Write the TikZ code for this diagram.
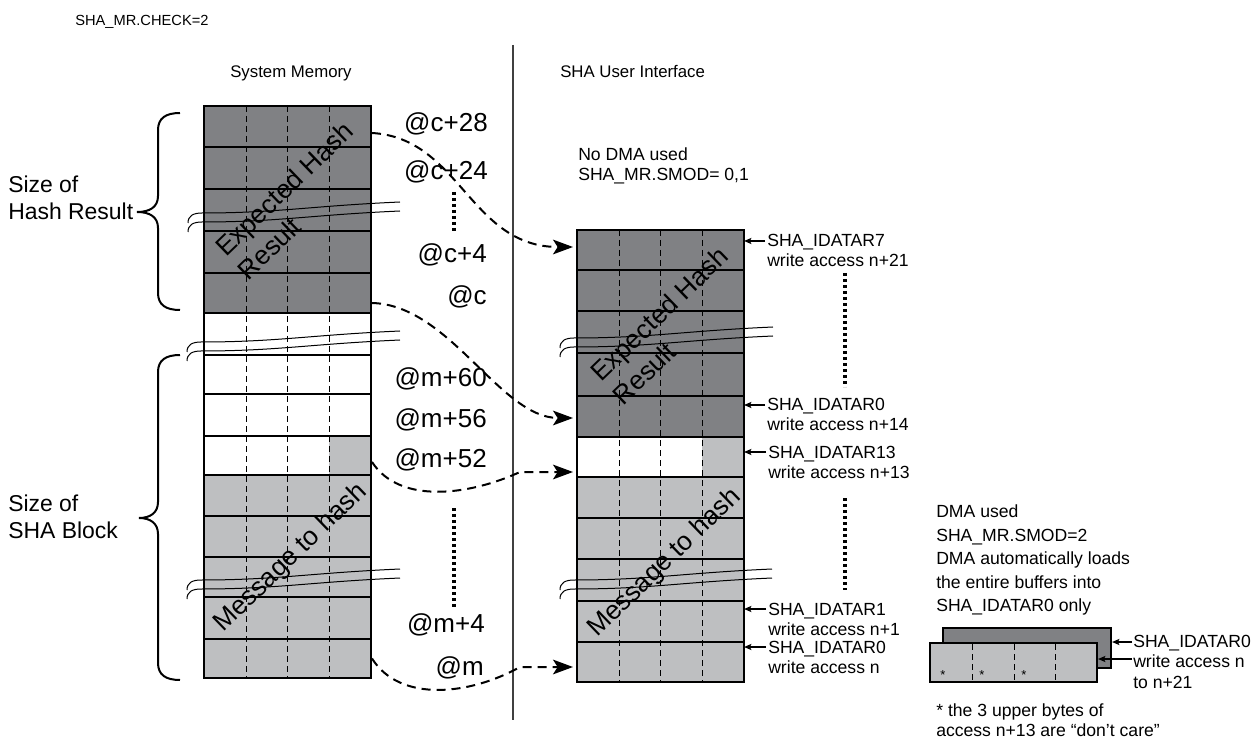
\documentclass[tikz,border=0pt]{standalone}
\usepackage{fontspec}
\setmainfont{Liberation Sans}
\usetikzlibrary{arrows.meta,calc}
\definecolor{dk}{RGB}{128,129,132}
\definecolor{lg}{RGB}{190,191,193}
\newcommand\wavebreak[3]{%
  \foreach \o in {0,9}{%
    \draw[brk] (#1,#2+\o+10) .. controls (#1,#2+\o+3) and (#1+5,#2+\o) .. (#1+14,#2+\o)
      .. controls (#1+90,#2+\o) and (#3-90,#2+\o-7) .. (#3,#2+\o-11);
  }}
\begin{document}
\begin{tikzpicture}[x=0.75pt,y=-0.75pt,
  txt/.style={font=\fontsize{13.2}{15}\selectfont,inner sep=0pt,anchor=base west},
  head/.style={font=\fontsize{12.6}{15}\selectfont,inner sep=0pt,anchor=base west},
  big/.style={font=\fontsize{17.2}{20}\selectfont,inner sep=0pt,anchor=base west},
  addr/.style={font=\fontsize{19.5}{22}\selectfont,inner sep=0pt,anchor=base east},
  diag/.style={font=\fontsize{19.8}{22}\selectfont,inner sep=0pt,anchor=base west,rotate=44},
  cell/.style={draw,line width=1.65pt,inner sep=0pt,outer sep=0pt,minimum width=125.25pt},
  divider/.style={line width=0.7pt,dash pattern=on 4.5pt off 3pt},
  conn/.style={line width=1.5pt,dash pattern=on 6.75pt off 4.5pt,-{Stealth[length=15pt,width=11pt,inset=3.5pt]}},
  sarr/.style={line width=1.5pt,-{Stealth[length=5.5pt,width=4.5pt,inset=1pt]}},
  dots/.style={line width=2.6pt,dash pattern=on 2.6pt off 1.9pt},
  brk/.style={line width=0.75pt},
  brace/.style={line width=1.5pt}]
\useasboundingbox (0,0) rectangle (1260,741);

% headings
\node[head,font=\fontsize{11}{13}\selectfont] (check) at (75,26) {SHA\_MR.CHECK=2};
\node[head] (sysmem) at (230,78) {System Memory};
\node[head] (shaui) at (560,78) {SHA User Interface};
\draw[line width=1pt,black!75] (513,45) -- (513,720);

% ---------- left column (system memory) ----------
\fill[dk] (204,106) rectangle (371,313);
\fill[lg] (329,436) rectangle (371,475);
\fill[lg] (204,475) rectangle (371,678);
\foreach \x in {246,287.5,329} \draw[divider] (\x,106) -- (\x,678);
\foreach \i/\a/\b in {0/106/147,1/147/189,2/189/231,3/231/273,4/273/313,5/313/355,6/355/394,7/394/436,8/436/475,9/475/516,10/516/557,11/557/597,12/597/639,13/639/678}
  \node[cell,minimum height={(\b-\a)*0.75pt}] (L\i) at (287.5,{(\a+\b)/2}) {};

% ---------- middle column (SHA user interface) ----------
\fill[dk] (577,230) rectangle (744,437);
\fill[lg] (702,437) rectangle (744,477);
\fill[lg] (577,477) rectangle (744,682);
\foreach \x in {619,660.5,702} \draw[divider] (\x,230) -- (\x,682);
\foreach \i/\a/\b in {0/230/270,1/270/311,2/311/353,3/353/396,4/396/437,5/437/477,6/477/518,7/518/559,8/559/601,9/601/642,10/642/682}
  \node[cell,minimum height={(\b-\a)*0.75pt}] (M\i) at (660.5,{(\a+\b)/2}) {};

% diagonal texts
\node[diag] (eh1) at (226,258) {Expected Hash};
\node[diag] (eh2) at (248.6,281.4) {Result};
\node[diag] (mh1) at (223,633) {Message to hash};
\node[diag] (eh3) at (601,383) {Expected Hash};
\node[diag] (eh4) at (623.6,406.4) {Result};
\node[diag] (mh2) at (597,638) {Message to hash};

% breaks
\wavebreak{188}{213}{400}
\wavebreak{187}{342}{400}
\wavebreak{187}{580}{400}
\wavebreak{560}{338}{773}
\wavebreak{560}{580}{772}

% braces and size labels
\draw[brace] (180,113) .. controls (166,113) and (158,118) .. (158,130) -- (158,196)
  .. controls (158,207) and (150,212) .. (137,212) .. controls (150,212) and (158,217) .. (158,228)
  -- (158,293) .. controls (158,305) and (166,310) .. (180,310);
\draw[brace] (180,355) .. controls (166,355) and (158,360) .. (158,372) -- (158,502)
  .. controls (158,513) and (150,518) .. (139,518) .. controls (150,518) and (158,523) .. (158,534)
  -- (158,663) .. controls (158,675) and (166,680) .. (180,680);
\node[big] (s1) at (8,193) {Size of};
\node[big] (s2) at (8,220) {Hash Result};
\node[big] (s3) at (8,511) {Size of};
\node[big] (s4) at (8,538) {SHA Block};

% addresses
\node[addr] (a1) at (488,132) {@c+28};
\node[addr] (a2) at (488,180) {@c+24};
\node[addr] (a3) at (487,263) {@c+4};
\node[addr] (a4) at (487,305) {@c};
\node[addr] (a5) at (487,387) {@m+60};
\node[addr] (a6) at (487,427) {@m+56};
\node[addr] (a7) at (487,467) {@m+52};
\node[addr] (a8) at (485,632) {@m+4};
\node[addr] (a9) at (484,675) {@m};
\draw[dots] (454,192) -- (454,232);
\draw[dots] (454,508) -- (454,607);

% connectors
\draw[conn] ($(L0.east)+(1,6.5)$) .. controls (460,138) and (470,247) .. ($(M0.west)+(-4,-3)$);
\draw[conn] ($(L4.east)+(1,10)$) .. controls (450,305) and (500,418) .. ($(M4.west)+(-4,1.5)$);
\draw[conn] ($(L8.east)+(1,6.5)$) .. controls (400,505) and (470,495) .. (520,472) -- ($(M5.west)+(-4,15)$);
\draw[conn] ($(L13.east)+(1,0)$) .. controls (400,703) and (470,695) .. (520,667) -- ($(M10.west)+(-4,5)$);

% no DMA
\node[txt] (nd1) at (578,161) {No DMA used};
\node[txt] (nd2) at (578,181) {SHA\_MR.SMOD= 0,1};

% register labels
\node[txt] (r7) at (767,247) {SHA\_IDATAR7};
\node[txt] (r7w) at (767,267) {write access n+21};
\node[txt] (r0a) at (767,411) {SHA\_IDATAR0};
\node[txt] (r0aw) at (767,431) {write access n+14};
\node[txt] (r13) at (768,458) {SHA\_IDATAR13};
\node[txt] (r13w) at (768,478) {write access n+13};
\node[txt] (r1) at (768,615) {SHA\_IDATAR1};
\node[txt] (r1w) at (768,635) {write access n+1};
\node[txt] (r0b) at (768,653) {SHA\_IDATAR0};
\node[txt] (r0bw) at (768,673) {write access n};
\foreach \n/\m in {r7/M0,r0a/M4,r13/M5,r1/M9,r0b/M10}{
  \coordinate (t\n) at ($(\n.base west)+(-2,-6)$);
  \draw[sarr] (t\n) -- (t\n -| \m.east);
}
\draw[dots] (845,273) -- (845,387);
\draw[dots] (845,498) -- (845,590);

% DMA
\node[txt] (d1) at (936,517) {DMA used};
\node[txt] (d2) at (936,541) {SHA\_MR.SMOD=2};
\node[txt] (d3) at (936,564) {DMA automatically loads};
\node[txt] (d4) at (936,588) {the entire buffers into};
\node[txt] (d5) at (936,611) {SHA\_IDATAR0 only};
\node[draw,fill=dk,line width=1.5pt,inner sep=0pt,minimum width=126pt,minimum height=30pt] (DB) at (1027,648) {};
\node[draw,fill=lg,line width=1.5pt,inner sep=0pt,minimum width=125.25pt,minimum height=29.25pt] (DF) at (1013.5,662.5) {};
\foreach \x in {972,1014,1055} \draw[divider] (\x,644) -- (\x,681);
\foreach \x/\k in {943/1,982/2,1024/3} \node[font=\fontsize{9.75}{11}\selectfont,inner sep=0pt,anchor=base] (ast\k) at (\x,679) {*};
\node[txt] (dl1) at (1133,647) {SHA\_IDATAR0};
\node[txt] (dl2) at (1133,667) {write access n};
\node[txt] (dl3) at (1133,688) {to n+21};
\coordinate (td1) at ($(dl1.base west)+(-1,-5)$);
\coordinate (td2) at ($(dl2.base west)+(-1,-8)$);
\draw[sarr] (td1) -- (td1 -| DB.east);
\draw[sarr] (td2) -- (td2 -| DF.east);
\node[txt] (fn1) at (936,716) {* the 3 upper bytes of};
\node[txt] (fn2) at (936,736) {access n+13 are “don't care”};
\end{tikzpicture}
\end{document}
